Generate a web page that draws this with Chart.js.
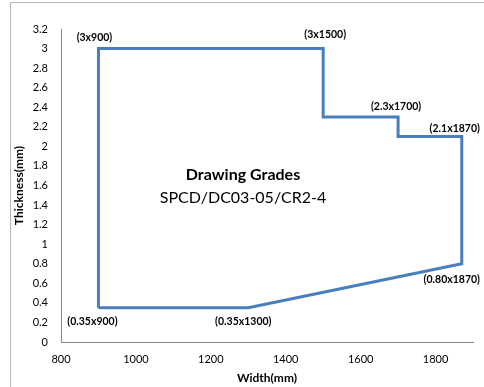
<!DOCTYPE html>
<html>
<head>
<meta charset="utf-8">
<script src="https://cdn.jsdelivr.net/npm/chart.js@4/dist/chart.umd.min.js"></script>
<style>
  html, body { margin: 0; padding: 0; background: #fff; }
  #wrap { width: 484px; height: 387px; position: relative; }
</style>
</head>
<body>
<div id="wrap"><canvas id="c" width="484" height="387"></canvas></div>
<script>
// Outline of the drawing-grade window: width (mm) vs thickness (mm)
const widthMm     = [900, 900, 1500, 1500, 1700, 1700, 1870, 1870, 1300, 900];
const thicknessMm = [0.35, 3, 3, 2.3, 2.3, 2.1, 2.1, 0.8, 0.35, 0.35];

// Corner callouts (thickness x width)
const cornerLabels = ['(3x900)', '(3x1500)', '(2.3x1700)', '(2.1x1870)', '(0.80x1870)', '(0.35x900)', '(0.35x1300)'];
const cornerWidth  = [900, 1500, 1700, 1870, 1870, 900, 1300];
const cornerThick  = [3, 3, 2.3, 2.1, 0.8, 0.35, 0.35];

const titleLines = ['Drawing Grades', 'SPCD/DC03-05/CR2-4'];
const xTitle = 'Width(mm)';
const yTitle = 'Thickness(mm)';

const FONT = 'Lato, "Open Sans", sans-serif';
const AXIS_GREY = '#868686';

// pixel nudges for each callout relative to its corner
const calloutShift = [[-4, -11], [2, -14], [-2, -10], [-7, -8], [-10, 16], [-6, 14], [-5, 14]];

const points = widthMm.map((w, i) => ({ x: w, y: thicknessMm[i] }));

const decorations = {
  id: 'decorations',
  afterDraw(chart) {
    const { ctx, scales: { x, y }, chartArea } = chart;
    ctx.save();
    // frame lines of the chart object
    ctx.strokeStyle = '#b5b5b5';
    ctx.lineWidth = 1;
    ctx.beginPath();
    ctx.moveTo(10.5, 387);
    ctx.lineTo(10.5, 2.5);
    ctx.lineTo(484, 2.5);
    ctx.stroke();

    // corner callouts
    ctx.fillStyle = '#000';
    ctx.font = 'bold 10.5px ' + FONT;
    ctx.textAlign = 'center';
    ctx.textBaseline = 'middle';
    cornerLabels.forEach((t, i) => {
      const px = x.getPixelForValue(cornerWidth[i]) + calloutShift[i][0];
      const py = y.getPixelForValue(cornerThick[i]) + calloutShift[i][1];
      ctx.fillText(t, px, py);
    });

    // inner title
    const cx = chartArea.left + 182;
    ctx.font = 'bold 16px ' + FONT;
    ctx.fillText(titleLines[0], cx, chartArea.top + 146);
    ctx.font = '16px ' + FONT;
    ctx.fillText(titleLines[1], cx, chartArea.top + 169);
    ctx.restore();
  }
};

new Chart(document.getElementById('c'), {
  type: 'scatter',
  data: {
    datasets: [{
      data: points,
      showLine: true,
      borderColor: '#4a7ebb',
      borderWidth: 3,
      pointRadius: 0,
      pointHoverRadius: 0,
      fill: false,
      tension: 0
    }]
  },
  options: {
    responsive: false,
    animation: false,
    events: [],
    layout: { padding: { left: 0, right: 11, top: 29, bottom: 0 } },
    plugins: { legend: { display: false }, tooltip: { enabled: false } },
    scales: {
      x: {
        type: 'linear',
        min: 800,
        max: 1900,
        afterFit(s) { s.height = 45; },
        border: { display: true, color: AXIS_GREY, width: 1 },
        grid: { display: false, drawTicks: false },
        ticks: {
          stepSize: 200,
          includeBounds: false,
          padding: 11,
          color: '#000',
          font: { family: FONT, size: 11 },
          maxRotation: 0,
          callback: v => String(v)
        },
        title: {
          display: true,
          text: xTitle,
          color: '#000',
          font: { family: FONT, size: 12, weight: 'bold' },
          padding: { top: 0, bottom: 2 }
        }
      },
      y: {
        type: 'linear',
        min: 0,
        max: 3.2,
        afterFit(s) { s.width = 61; },
        border: { display: true, color: AXIS_GREY, width: 1 },
        grid: { display: false, drawTicks: false },
        ticks: {
          stepSize: 0.2,
          padding: 13,
          color: '#000',
          font: { family: FONT, size: 11 },
          callback: v => String(Math.round(v * 10) / 10)
        },
        title: {
          display: true,
          text: yTitle,
          color: '#000',
          font: { family: FONT, size: 12, weight: 'bold' },
          padding: { top: 12, bottom: 0 }
        }
      }
    }
  },
  plugins: [decorations]
});
</script>
</body>
</html>
